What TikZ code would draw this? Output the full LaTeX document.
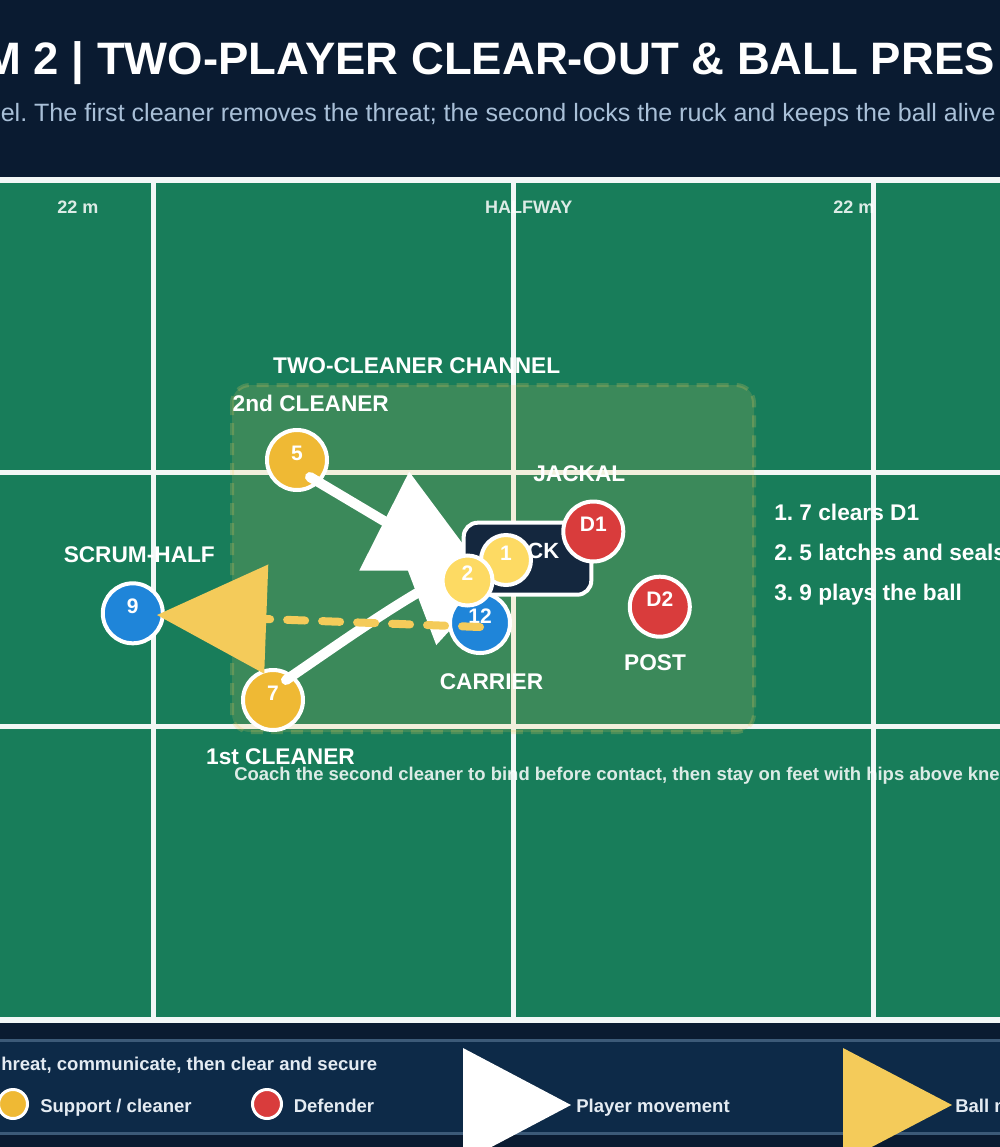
\documentclass[tikz,border=0pt]{standalone}
\usepackage{fontspec}
\setmainfont{Liberation Sans}
\frenchspacing
\usetikzlibrary{arrows.meta}
\definecolor{navy}{HTML}{0A1B31}
\definecolor{turf}{HTML}{187D5A}
\definecolor{chalk}{HTML}{F2F7F6}
\definecolor{gold}{HTML}{EFB934}
\definecolor{lightgold}{HTML}{FDDA63}
\definecolor{blueplayer}{HTML}{1F85D9}
\definecolor{redplayer}{HTML}{D93C3C}
\definecolor{ballyellow}{HTML}{F4CB5A}
\definecolor{rucknavy}{HTML}{14273E}
\definecolor{panel}{HTML}{0D2A48}
\definecolor{panelline}{HTML}{3C5A78}
\definecolor{subtext}{HTML}{A9C0D8}
\definecolor{keytext}{HTML}{E4EBF2}
\tikzset{
	pitch/.style={
		fill=turf,
		draw=chalk,
		line width=4.5pt,
	},
	pline/.style={draw=chalk, line width=3.75pt},
	zone/.style={
		fill=ballyellow,
		fill opacity=0.16,
		draw=ballyellow,
		draw opacity=0.22,
		line width=3pt,
		dash pattern=on 9pt off 6pt,
		rounded corners=13.5pt,
	},
	player/.style={
		circle,
		draw=white,
		line width=3pt,
		minimum size=45pt,
		inner sep=0pt,
		text=white,
		text height=0pt,
		text depth=0pt,
		font=\bfseries\fontsize{15.75}{16}\selectfont,
	},
	support/.style={player, fill=gold},
	lead/.style={player, fill=lightgold, minimum size=37.5pt},
	carrier/.style={player, fill=blueplayer},
	defender/.style={player, fill=redplayer},
	ruckbox/.style={
		draw=white,
		fill=rucknavy,
		line width=3pt,
		rounded corners=10.5pt,
		minimum width=95.7pt,
		minimum height=54pt,
		inner sep=0pt,
		text=white,
		text height=0pt,
		text depth=0pt,
		font=\bfseries\fontsize{16.5}{18}\selectfont,
	},
	move/.style={
		draw=white,
		line width=7.5pt,
		line cap=round,
		-{Triangle[length=83pt, width=83pt, line width=0pt]}
	},
	pass/.style={
		draw=ballyellow,
		line width=6pt,
		line cap=round,
		dash pattern=on 13.5pt off 12.75pt,
		-{Triangle[length=82pt, width=82pt, line width=0pt]}
	},
	lbl/.style={
		anchor=base,
		inner sep=0pt,
		text=white,
		font=\bfseries\fontsize{17}{19}\selectfont,
	},
	note/.style={lbl, anchor=base west},
	tag/.style={
		anchor=base,
		inner sep=0pt,
		text=white,
		text opacity=0.85,
		font=\bfseries\fontsize{13.5}{15}\selectfont,
	},
	key/.style={
		anchor=base west,
		inner sep=0pt,
		text=keytext,
		font=\bfseries\fontsize{13.9}{15}\selectfont,
	},
	keydot/.style={
		circle,
		draw=white,
		line width=2.25pt,
		minimum size=21.75pt,
		inner sep=0pt,
	},
}
\begin{document}
\begin{tikzpicture}[x=0.75pt, y=-0.75pt]
		\useasboundingbox (0,0) rectangle (1000,1147);
		\clip (0,0) rectangle (1000,1147);
		\fill[navy] (0,0) rectangle (1000,1147);

		\node[anchor=base east, inner sep=0pt, text=white, font=\bfseries\fontsize{34.1}{40}\selectfont] (head) at (995,74) {M 2 | TWO-PLAYER CLEAR-OUT \& BALL PRES};
		\node[anchor=base west, inner sep=0pt, text=subtext, font=\fontsize{18.8}{22}\selectfont] (sub) at (0.5,121.5) {el. The first cleaner removes the threat; the second locks the ruck and keeps the ball alive};

		% pitch and grid
		\draw[pitch] (-20,179.7) rectangle (1020,1019.7);
		\foreach \x in {153,513,873}
			\draw[pline] (\x,179.7) -- (\x,1019.7);
		\foreach \y in {472,726}
			\draw[pline] (-20,\y) -- (1020,\y);
		\draw[zone] (232,385) rectangle (754,732);

		\node[support] (p5) at (297,460) {5};
		\node[support] (p7) at (273,700) {7};

		\coordinate (tipa) at (483,571);
		\coordinate (tipb) at (520,554);
		\draw[move] ([shift={(13,17)}]p5.center) -- (384,521) -- (tipa);
		\draw[move] ([shift={(13,-20)}]p7.center) .. controls (330,650) and (375,618) .. (416.7,593.3) -- (tipb);

		\node[ruckbox] (ruck) at (527.5,558.7) {RUCK};
		\node[carrier] (p12) at (480,623) {12};
		\node[lead] (p1) at (506,560) {1};
		\node[lead] (p2) at (467.5,580.5) {2};
		\node[defender] (d1) at (593.3,531.5) {D1};
		\node[defender] (d2) at (659.8,606.7) {D2};
		\node[carrier] (p9) at (132.8,613.3) {9};

		\coordinate (tipc) at (157,615);
		\draw[pass] ([shift={(0,4)}]p12.center) -- (tipc);

		\node[tag] (left22) at (78,213.3) {22 m};
		\node[tag] (half) at (528.7,213.3) {HALFWAY};
		\node[tag] (right22) at (853.8,213.3) {22 m};

		\node[lbl] (chan) at (416.7,373.5) {TWO-CLEANER CHANNEL};
		\node[lbl] (second) at (310.8,411) {2nd CLEANER};
		\node[lbl] (jackal) at (579.3,481.7) {JACKAL};
		\node[lbl] (scrum) at (139.3,562.7) {SCRUM-HALF};
		\node[lbl] (carry) at (491.5,689.5) {CARRIER};
		\node[lbl] (post) at (655,670.7) {POST};
		\node[lbl] (first) at (280.5,764.5) {1st CLEANER};
		\node[tag, anchor=base west, font=\bfseries\fontsize{13.85}{15}\selectfont] (coach) at (234,780) {Coach the second cleaner to bind before contact, then stay on feet with hips above kne};

		\node[note] (step1) at (774,520) {1. 7 clears D1};
		\node[note] (step2) at (774,560) {2. 5 latches and seals};
		\node[note] (step3) at (774,600) {3. 9 plays the ball};

		% key
		\fill[panel] (-5,1040) rectangle (1005,1133);
		\draw[panelline, line width=2.25pt] (-5,1040) -- (1005,1040) (-5,1133) -- (1005,1133);
		\node[key, anchor=base east] (intro) at (377.5,1070.5) {hreat, communicate, then clear and secure};
		\node[keydot, fill=gold] (ksup) at (13,1104) {};
		\node[key] (ksupt) at (40,1112) {Support / cleaner};
		\node[keydot, fill=redplayer] (kdef) at (267,1104) {};
		\node[key] (kdeft) at (293.5,1112) {Defender};
		\fill[white] (463,1048) -- (571,1105) -- (463,1162) -- cycle;
		\node[key] (kmove) at (576,1112) {Player movement};
		\fill[ballyellow] (843,1048) -- (952,1105) -- (843,1162) -- cycle;
		\node[key] (kpass) at (955,1112) {Ball m};

	\end{tikzpicture}
\end{document}
